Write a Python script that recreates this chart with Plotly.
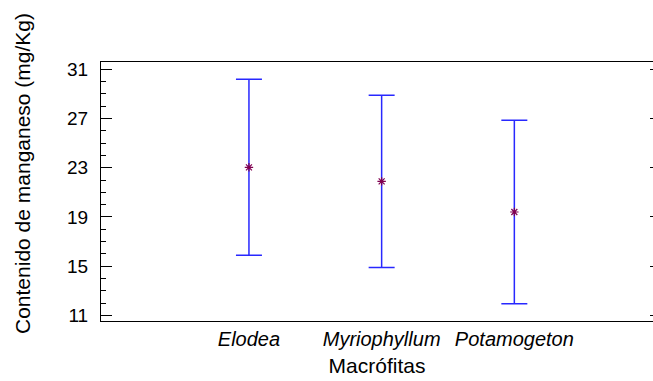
import plotly.graph_objects as go

categories = ["Elodea", "Myriophyllum", "Potamogeton"]
means = [23.03, 21.89, 19.40]
half_width = [7.15, 7.00, 7.45]
y_ticks = [11, 15, 19, 23, 27, 31]

FONT = "Liberation Sans, Arial, sans-serif"

fig = go.Figure()
fig.add_trace(go.Scatter(
    x=categories, y=means, mode="markers",
    marker=dict(symbol="asterisk-open", size=7, color="rgb(128,0,80)",
                line=dict(width=1.2, color="rgb(128,0,80)")),
    error_y=dict(type="data", array=half_width, visible=True,
                 color="rgb(40,40,255)", thickness=1.5, width=13),
    showlegend=False, cliponaxis=False,
))
# invisible trace for right-side mirrored ticks
fig.add_trace(go.Scatter(x=categories, y=means, yaxis="y2", mode="markers",
                         marker=dict(opacity=0), showlegend=False, hoverinfo="skip"))

yrange = [10.54, 31.59]
fig.update_layout(
    width=653, height=381,
    margin=dict(l=101, r=0, t=62, b=60),
    paper_bgcolor="white", plot_bgcolor="white",
    font=dict(family=FONT, color="black"),
    xaxis=dict(
        type="category", range=[-1.115, 3.045],
        tickvals=categories, ticktext=["<i>%s</i>" % c for c in categories],
        tickfont=dict(size=20), ticks="", showgrid=False, zeroline=False,
        showline=True, linecolor="black", linewidth=1, mirror=True,
        title=dict(text="Macrófitas", font=dict(size=21), standoff=9),
    ),
    yaxis=dict(
        range=yrange, tickvals=y_ticks, tickfont=dict(size=19),
        ticks="inside", ticklen=11, tickcolor="black", tickwidth=1,
        minor=dict(dtick=1, tick0=11, ticks="inside", ticklen=5, tickcolor="black", tickwidth=1),
        showgrid=False, zeroline=False, showline=True, linecolor="black", linewidth=1,
        ticklabelstandoff=8,
    ),
    yaxis2=dict(
        range=yrange, tickvals=y_ticks, overlaying="y", side="right",
        showticklabels=False, ticks="inside", ticklen=3, tickcolor="black",
        showgrid=False, zeroline=False, showline=False,
    ),
    annotations=[dict(
        text="Contenido de manganeso (mg/Kg)", textangle=-90,
        xref="paper", yref="paper", x=-0.1413, y=0.5676,
        xanchor="center", yanchor="middle", showarrow=False,
        font=dict(size=21, family=FONT),
    )],
)
fig.write_html("out.html")
